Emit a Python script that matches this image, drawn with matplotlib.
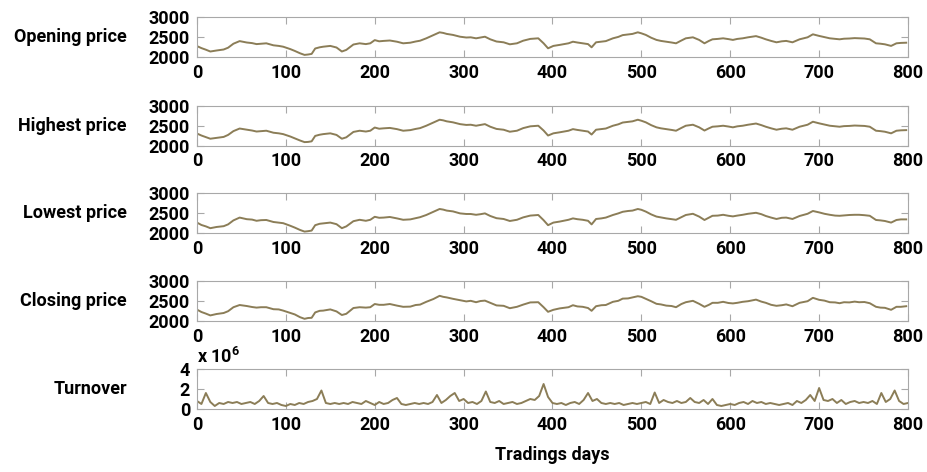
import matplotlib
matplotlib.use("Agg")
import matplotlib.pyplot as plt

plt.rcParams["font.family"] = ["Roboto", "DejaVu Sans"]
plt.rcParams["font.weight"] = "bold"
plt.rcParams["mathtext.fontset"] = "custom"
plt.rcParams["mathtext.rm"] = "Roboto:bold"
plt.rcParams["mathtext.default"] = "rm"

# trading day index of each sampled price point
days = [0, 5, 10, 15, 22, 30, 35, 41, 48, 56, 62, 67, 72, 78, 86, 92, 97,
        105, 110, 116, 121, 125, 129, 133, 138, 142, 150, 157, 163, 168, 176,
        183, 190, 195, 200, 205, 210, 217, 225, 232, 240, 246, 251, 258, 266,
        273, 277, 281, 288, 296, 303, 308, 314, 319, 324, 330, 337, 345, 352,
        360, 367, 375, 384, 390, 395, 401, 408, 418, 423, 428, 434, 440, 444,
        449, 455, 460, 468, 474, 479, 485, 490, 496, 500, 505, 511, 517, 522,
        528, 534, 539, 545, 550, 558, 565, 571, 576, 580, 586, 592, 598, 603,
        608, 614, 620, 629, 635, 640, 646, 652, 658, 663, 670, 678, 687, 693,
        700, 706, 712, 718, 723, 728, 734, 740, 745, 751, 757, 764, 769, 774,
        781, 787, 792, 798]

opening = [2280, 2230, 2190, 2145, 2170, 2195, 2240, 2340, 2405, 2370, 2355,
           2330, 2340, 2350, 2300, 2285, 2265, 2205, 2160, 2100, 2060, 2070,
           2085, 2220, 2250, 2265, 2285, 2245, 2145, 2185, 2320, 2350, 2330,
           2350, 2430, 2400, 2410, 2420, 2390, 2350, 2365, 2395, 2415, 2475,
           2555, 2625, 2610, 2585, 2560, 2515, 2495, 2500, 2475, 2495, 2515,
           2450, 2395, 2375, 2325, 2350, 2415, 2460, 2475, 2350, 2225, 2285,
           2310, 2350, 2390, 2370, 2350, 2330, 2250, 2375, 2390, 2405, 2475,
           2510, 2555, 2570, 2585, 2625, 2600, 2560, 2490, 2435, 2410, 2390,
           2370, 2350, 2420, 2475, 2500, 2435, 2350, 2410, 2450, 2460, 2475,
           2455, 2435, 2460, 2475, 2500, 2530, 2490, 2450, 2410, 2375, 2400,
           2410, 2375, 2450, 2500, 2575, 2535, 2505, 2475, 2460, 2450, 2465,
           2470, 2480, 2475, 2470, 2450, 2350, 2340, 2325, 2285, 2350, 2360,
           2365]

highest = [2300, 2250, 2210, 2170, 2190, 2215, 2265, 2360, 2425, 2395, 2375,
           2350, 2360, 2370, 2320, 2305, 2285, 2225, 2180, 2125, 2085, 2090,
           2105, 2240, 2270, 2285, 2305, 2265, 2170, 2205, 2340, 2370, 2350,
           2370, 2450, 2420, 2430, 2440, 2410, 2370, 2385, 2415, 2435, 2495,
           2575, 2645, 2630, 2605, 2580, 2535, 2515, 2520, 2495, 2515, 2535,
           2470, 2415, 2395, 2345, 2370, 2435, 2480, 2495, 2375, 2250, 2305,
           2330, 2370, 2410, 2390, 2370, 2350, 2275, 2395, 2410, 2425, 2495,
           2530, 2575, 2590, 2605, 2645, 2620, 2580, 2510, 2455, 2430, 2410,
           2390, 2370, 2440, 2495, 2520, 2455, 2375, 2430, 2470, 2480, 2495,
           2475, 2455, 2480, 2495, 2520, 2550, 2510, 2470, 2430, 2395, 2420,
           2430, 2395, 2470, 2520, 2595, 2555, 2525, 2495, 2480, 2470, 2485,
           2490, 2500, 2495, 2490, 2470, 2370, 2360, 2345, 2305, 2370, 2380,
           2385]

lowest = [2260, 2200, 2165, 2120, 2150, 2170, 2215, 2315, 2385, 2345, 2335,
          2305, 2320, 2325, 2275, 2260, 2245, 2180, 2135, 2075, 2035, 2045,
          2060, 2195, 2230, 2240, 2260, 2220, 2120, 2165, 2295, 2330, 2305,
          2330, 2405, 2380, 2385, 2400, 2365, 2330, 2340, 2370, 2395, 2450,
          2530, 2600, 2585, 2560, 2540, 2490, 2475, 2475, 2455, 2470, 2490,
          2425, 2370, 2350, 2300, 2330, 2390, 2435, 2450, 2320, 2195, 2260,
          2285, 2330, 2365, 2345, 2330, 2305, 2215, 2350, 2365, 2385, 2450,
          2490, 2530, 2550, 2560, 2600, 2580, 2535, 2465, 2410, 2390, 2365,
          2345, 2330, 2395, 2450, 2480, 2410, 2325, 2385, 2430, 2435, 2455,
          2430, 2415, 2435, 2455, 2480, 2505, 2470, 2425, 2385, 2350, 2380,
          2385, 2350, 2425, 2480, 2550, 2515, 2480, 2455, 2435, 2430, 2440,
          2450, 2455, 2455, 2445, 2430, 2325, 2315, 2300, 2260, 2325, 2340,
          2340]

closing = [2285, 2225, 2185, 2140, 2175, 2200, 2245, 2345, 2400, 2375, 2350,
           2335, 2345, 2345, 2295, 2290, 2260, 2200, 2165, 2095, 2055, 2075,
           2080, 2215, 2255, 2260, 2290, 2240, 2150, 2180, 2325, 2345, 2335,
           2345, 2425, 2405, 2405, 2425, 2385, 2355, 2360, 2400, 2410, 2480,
           2550, 2630, 2605, 2590, 2555, 2520, 2490, 2505, 2470, 2500, 2510,
           2455, 2390, 2380, 2320, 2355, 2410, 2465, 2470, 2345, 2230, 2280,
           2315, 2345, 2395, 2365, 2355, 2325, 2255, 2370, 2395, 2400, 2480,
           2505, 2560, 2565, 2590, 2620, 2605, 2555, 2495, 2430, 2415, 2385,
           2375, 2345, 2425, 2470, 2505, 2430, 2355, 2405, 2455, 2455, 2480,
           2450, 2440, 2455, 2480, 2495, 2535, 2485, 2455, 2405, 2380, 2395,
           2415, 2370, 2455, 2495, 2580, 2530, 2510, 2470, 2465, 2445, 2470,
           2465, 2485, 2470, 2475, 2445, 2355, 2335, 2330, 2280, 2355, 2355,
           2370]

# turnover, units of 1e6, one reading every 5 trading days (0..800)
turnover = [0.8, 0.5, 1.6, 0.7, 0.3, 0.6, 0.5, 0.7, 0.6, 0.7, 0.5, 0.6, 0.7, 0.5, 0.8, 1.3, 0.6, 0.5, 0.6, 0.4,
            0.3, 0.5, 0.4, 0.6, 0.5, 0.7, 0.8, 1.0, 1.85, 0.6, 0.5, 0.6, 0.5, 0.6, 0.5, 0.7, 0.6, 0.5, 0.8, 0.6,
            0.4, 0.7, 0.5, 0.6, 0.9, 1.1, 0.5, 0.4, 0.5, 0.6, 0.5, 0.6, 0.5, 0.7, 1.4, 0.6, 0.9, 1.3, 1.6, 0.8,
            1.0, 0.6, 0.7, 0.5, 0.8, 1.75, 0.7, 0.6, 0.8, 0.5, 0.6, 0.7, 0.5, 0.6, 0.8, 1.0, 0.9, 1.3, 2.5, 1.2,
            0.6, 0.5, 0.6, 0.4, 0.6, 0.7, 0.5, 0.9, 1.6, 0.8, 1.0, 0.6, 0.5, 0.6, 0.5, 0.6, 0.4, 0.5, 0.6, 0.5,
            0.6, 0.7, 0.5, 1.65, 0.6, 0.9, 0.7, 0.6, 0.8, 0.6, 0.7, 1.1, 0.7, 0.6, 0.9, 0.5, 1.0, 0.4, 0.3, 0.4,
            0.5, 0.4, 0.6, 0.7, 0.5, 0.8, 0.6, 0.7, 0.5, 0.6, 0.5, 0.4, 0.5, 0.6, 0.4, 0.8, 0.6, 0.9, 1.4, 0.8,
            2.1, 0.9, 0.8, 1.0, 0.6, 0.9, 0.5, 0.7, 0.8, 0.6, 0.7, 0.6, 0.8, 0.5, 1.6, 0.7, 1.0, 1.85, 0.8, 0.5,
            0.6]
turnover_days = list(range(0, 801, 5))

panels = [
    ("Opening price", days, opening),
    ("Highest price", days, highest),
    ("Lowest price", days, lowest),
    ("Closing price", days, closing),
    ("Turnover", turnover_days, turnover),
]

line_color = "#8b7d57"
frame_color = "#a8a8a8"

fig = plt.figure(figsize=(9.27, 4.72), dpi=100)

bottoms = [0.8786, 0.6917, 0.5064, 0.3199, 0.1335]
left, width, height = 0.2125, 0.767, 0.0847

for (label, x, y), b in zip(panels, bottoms):
    ax = fig.add_axes([left, b, width, height])
    ax.plot(x, y, color=line_color, linewidth=1.4)
    ax.set_xlim(0, 800)
    ax.set_xticks(range(0, 801, 100))
    if label == "Turnover":
        ax.set_ylim(0, 4)
        ax.set_yticks([0, 2, 4])
        ax.text(0, 1.04, r"x 10$^6$", transform=ax.transAxes,
                ha="left", va="bottom", fontsize=13, fontweight="bold")
    else:
        ax.set_ylim(2000, 3000)
        ax.set_yticks([2000, 2500, 3000])
    for s in ax.spines.values():
        s.set_color(frame_color)
    ax.tick_params(direction="in", top=True, right=True, length=5,
                   color=frame_color, labelsize=13, pad=5)
    ax.set_ylabel(label, rotation=0, ha="right", va="center",
                  fontsize=13, fontweight="bold")
    ax.yaxis.set_label_coords(-0.0985, 0.5)

fig.text(0.5955, 1 - 455 / 472, "Tradings days", ha="center", va="center",
         fontsize=13, fontweight="bold")

fig.savefig("out.png", dpi=100)
